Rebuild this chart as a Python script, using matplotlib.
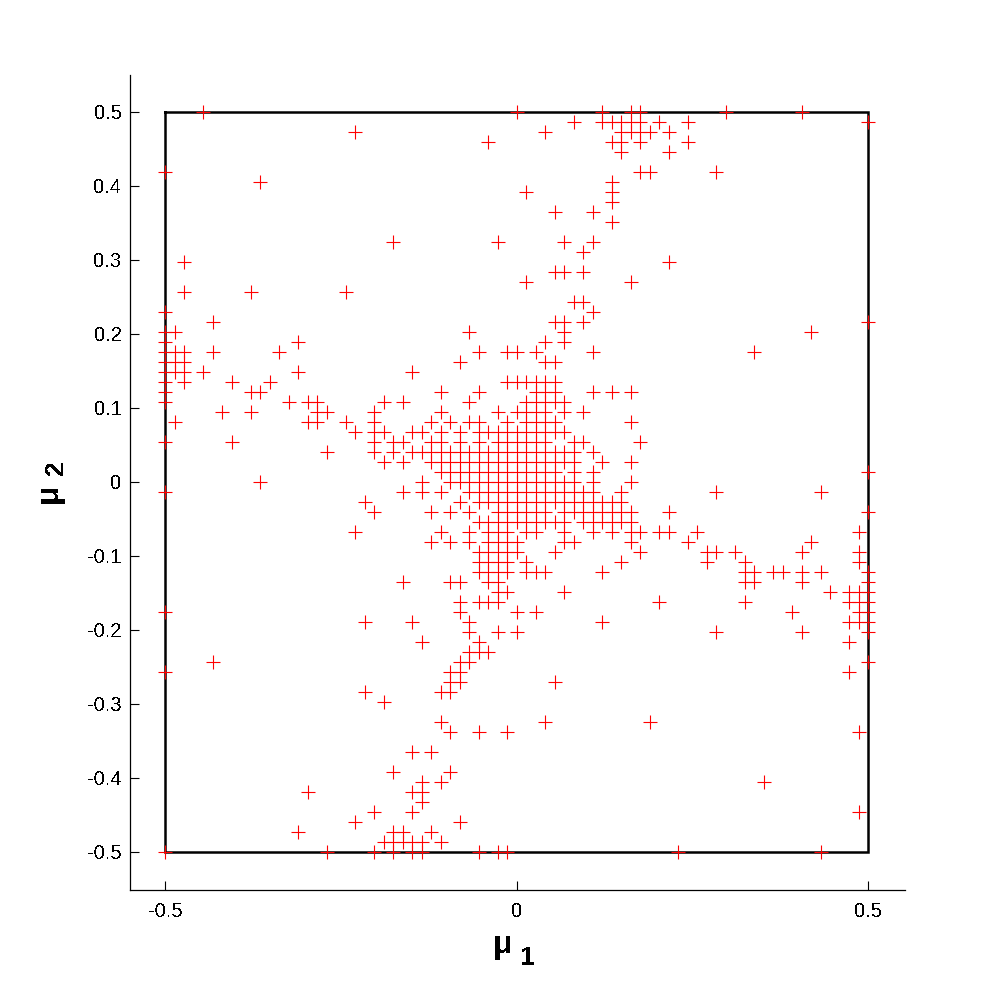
import matplotlib
matplotlib.use("Agg")
import matplotlib.pyplot as plt

# grid cells of the sampled (mu1, mu2) plane, cell size is 1/74
GRID = 74

rows = [37, 36, 35, 34, 33, 31, 30, 29, 28, 27, 26, 24, 23, 22, 21, 20, 19, 18, 17, 16, 15, 14, 13, 12, 11, 10,
        9, 8, 7, 6, 5, 4, 3, 2, 1, 0, -1, -2, -3, -4, -5, -6, -7, -8, -9, -10, -11, -12, -13, -14, -15, -16,
        -17, -18, -19, -20, -21, -22, -24, -25, -27, -29, -30, -31, -32, -33, -34, -35, -36, -37]

cols = [
    [-33, 0, 9, 12, 13, 22, 30],
    [6, 9, 10, 11, 12, 13, 15, 18, 37],
    [-17, 3, 11, 12, 13, 14, 16],
    [-3, 10, 11, 13, 18],
    [11, 16],
    [-37, 13, 14, 21],
    [-27, 10],
    [1, 10],
    [10],
    [4, 8],
    [10],
    [-13, -2, 5, 8],
    [7],
    [-35, 16],
    [4, 5, 7],
    [1, 12],
    [-35, -28, -18],
    [6, 7],
    [-37, 8],
    [-32, 4, 5, 7, 37],
    [-37, -36, -5, 5, 31],
    [-37, -23, 3, 5],
    [-37, -36, -35, -32, -25, -4, -1, 0, 2, 8, 25],
    [-37, -36, -35, -6, 3, 4],
    [-37, -36, -35, -33, -23, -11],
    [-37, -35, -30, -26, -1, 0, 1, 2, 3, 4],
    [-37, -28, -27, -8, -4, 2, 3, 4, 8, 10, 12],
    [-37, -24, -22, -21, -14, -12, -5, 1, 2, 3, 4, 5],
    [-31, -28, -21, -20, -15, -8, -2, 0, 1, 2, 3, 5, 7],
    [-36, -22, -21, -18, -15, -9, -7, -5, -4, -1, 1, 2, 3, 4, 12],
    [-17, -15, -14, -11, -10, -8, -6, -4, -3, -2, -1, 0, 1, 2, 3, 4, 5],
    [-37, -30, -15, -13, -12, -9, -8, -6, -4, -2, -1, 0, 1, 2, 3, 6, 7, 13],
    [-20, -15, -13, -11, -10, -9, -8, -7, -6, -5, -4, -3, -2, -1, 0, 1, 2, 3, 4, 5, 6, 8],
    [-14, -12, -9, -8, -7, -6, -5, -4, -3, -2, -1, 0, 1, 2, 3, 4, 5, 6, 9, 12],
    [-8, -7, -6, -5, -4, -3, -2, -1, 0, 1, 2, 3, 4, 6, 8, 37],
    [-27, -10, -7, -6, -5, -4, -3, -2, -1, 0, 1, 2, 3, 4, 5, 6, 8, 12],
    [-37, -12, -10, -8, -5, -4, -3, -2, -1, 0, 1, 2, 3, 4, 5, 6, 7, 8, 11, 21, 32],
    [-16, -6, -4, -3, -2, -1, 0, 1, 2, 3, 4, 5, 6, 7, 8, 9, 10, 11],
    [-15, -9, -7, -5, -2, -1, 0, 1, 2, 3, 5, 6, 7, 8, 9, 10, 11, 12, 16, 37],
    [-4, -3, -2, -1, 0, 1, 2, 3, 4, 5, 7, 8, 9, 10, 11, 12],
    [-17, -8, -5, -3, -2, -1, 1, 2, 5, 8, 10, 12, 13, 15, 16, 19, 36],
    [-9, -7, -5, -3, -2, -1, 0, 5, 6, 12, 18, 31],
    [-4, -3, -2, -1, 0, 4, 13, 20, 21, 23, 30, 36],
    [-4, -3, -2, -1, 1, 11, 20, 24, 36],
    [-4, -3, -2, -1, 1, 2, 3, 9, 24, 25, 27, 28, 30, 32, 37],
    [-12, -7, -6, -3, -2, 24, 25, 30, 37],
    [-2, -1, 5, 33, 35, 36, 37],
    [-6, -4, -3, -2, 15, 24, 35, 36, 37],
    [-37, -6, 0, 2, 29, 36, 37],
    [-16, -11, -5, 9, 35, 36, 37],
    [-5, -2, 0, 21, 30, 37],
    [-10, -4, 35],
    [-5, -4, -3],
    [-32, -6, -5, 37],
    [-37, -7, -6, 35],
    [-7, -6, 4],
    [-16, -8, -7],
    [-14],
    [-8, 3, 14],
    [-7, -4, -1, 36],
    [-11, -9],
    [-13, -7],
    [-10, -8, 26],
    [-22, -11, -10],
    [-10],
    [-15, -11, 36],
    [-17, -6],
    [-23, -13, -12, -9],
    [-14, -13, -12, -11, -10, -8],
    [-37, -20, -15, -13, -11, -10, -4, -2, -1, 17, 32],
]

box_x = [-0.5, 0.5, 0.5, -0.5, -0.5]
box_y = [0.5, 0.5, -0.5, -0.5, 0.5]
xticks = [-0.5, 0, 0.5]
xticklabels = ["-0.5", "0", "0.5"]
yticks = [-0.5, -0.4, -0.3, -0.2, -0.1, 0, 0.1, 0.2, 0.3, 0.4, 0.5]
yticklabels = ["-0.5", "-0.4", "-0.3", "-0.2", "-0.1", "0", "0.1", "0.2", "0.3", "0.4", "0.5"]

mu1 = []
mu2 = []
for r, row_cols in zip(rows, cols):
    for c in row_cols:
        mu1.append(c / GRID)
        mu2.append(r / GRID)

plt.rcParams['font.family'] = ['Liberation Sans', 'DejaVu Sans']
plt.rcParams['text.antialiased'] = False

fig = plt.figure(figsize=(9.99, 10), dpi=100)
ax = fig.add_axes([130 / 999, 110 / 1000, 775 / 999, 815 / 1000])

ax.plot(box_x, box_y, color='k', lw=1.8, solid_joinstyle='miter', zorder=2)
ax.plot(mu1, mu2, '+', color='#ff0000', ms=9.6, mew=0.8, clip_on=False, antialiased=False, zorder=3)

ax.set_xlim(-0.55, 0.552)
ax.set_ylim(-0.5514, 0.55)
ax.spines['top'].set_visible(False)
ax.spines['right'].set_visible(False)
ax.spines['left'].set_linewidth(0.9)
ax.spines['bottom'].set_linewidth(0.9)

ax.set_xticks(xticks)
ax.set_xticklabels(xticklabels)
ax.set_yticks(yticks)
ax.set_yticklabels(yticklabels)
ax.tick_params(direction='in', length=6.5, width=0.8, labelsize=14.5, pad=6)
ax.tick_params(axis='x', pad=8.5)

# axis names sit apart from their subscripts in the original
fig.text(503 / 999, 1 - 945 / 1000, "μ", fontsize=23, fontweight='bold', ha='center', va='center')
fig.text(528 / 999, 1 - 958 / 1000, "1", fontsize=19, fontweight='bold', ha='center', va='center')
fig.text(49 / 999, 1 - 493 / 1000, "μ", fontsize=23, fontweight='bold', rotation=90, ha='center', va='center')
fig.text(56 / 999, 1 - 468 / 1000, "2", fontsize=19, fontweight='bold', rotation=90, ha='center', va='center')

plt.savefig("out.png", dpi=100)
plt.close()
